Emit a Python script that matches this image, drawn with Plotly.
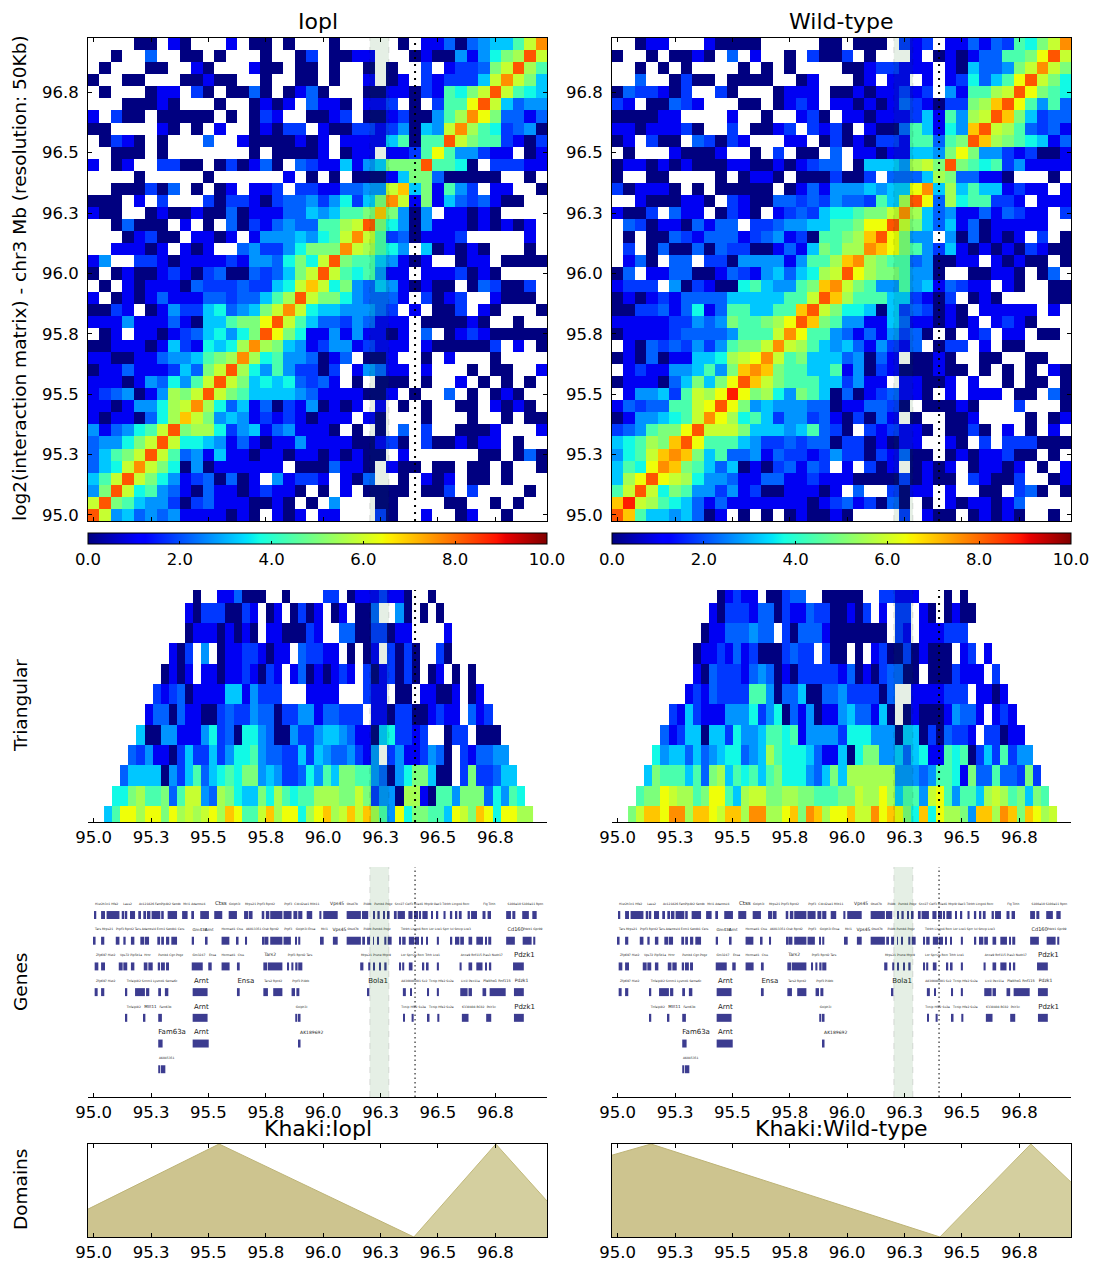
import plotly.graph_objects as go

# ---------- value codes: one character per matrix cell, '.' is an empty (white) cell ----------
CODE = {'0':0,'1':1,'2':1.8,'3':2.2,'4':2.7,'5':3.2,'6':3.7,'7':4.4,'8':5.0,'9':5.5,
        'a':5.9,'b':6.4,'c':7.0,'d':7.6,'e':8.2,'f':8.8}

iopl_left = ["....00.10...1.00.0..","..0..3..00.0...0..02",".0...00..10...100.00","0..00...00100..0..00",
".0...011.20.0030.013","...00010...0..0101.3","1.200.00000.0.021..0","00....10.0.1..01022.",
".0210.0...3..1000010","..000.0.......0.0000","1.01..2200.020130.32","....0.....0......1.0",
"..000203.0.01.112.22","000.1.2...2022102334","100..010010030111335","..03000.1.0.30213433",
"...01200.1101.144454","..11101.101..3422468","14..2210111121443686","0.01001210230032358a",
".0.101110322232256ac","1.0101311133233579ea","0021.01422563458ada6","111411131055788bea75",
".01.11012356468eb861","00111015216569d98541","1100113445789d967443","01131112538ae9647422",
"1110143647aea8565632","123401498aea87555543","11014469ad9635130214","10110369ca8454121210",
"413467ae899624513411","34468aea665413101141","3578aea7341511011011","356ada86040111111.00",
"57aea8641230301.4122","48ea674310311012110.","ae8754420231110010.0","ea4534341111010.101."]
iopl_right = [".0.....0.113034557ad",".0011...0100414689ea",".0..0.0..2.12238ae97",".0..1.01.212225ada85",
"0...0011021768aea765","110.112.0.277bea5344","012.001200479db83313","10022124054ad9762340",
"1.111157077ea8772102","1.011.1127b744211.01","115145888e7760.22211",".0.0001588300000..0.",
"113344ac581742.11..0","246258da1815323100..","45778c8404.11010....","779ae86404111010101.",
"67ada72301112.....1.","88da9764.501010...0.","ae87754101..011.0000","ea767411.1112010....",
"a68435410100.032002.","88643331.2012..1000.","5544432.1.002.10...0","33243111.000010..0..",
"14141101.3.012100000","24412111.1000002.1.0","013.001..0.1...0....","02.14311.1...0.00..1",
"31.0.000.0..1.0.0.0.","1111001.0..3.0.010..","0101.1.0.0..00.1010.","111.10...0...0..0.00",
"10.0.0.3.2..0001...1","11100120.2001011.0..","010100.1......00.030","03110.100.00.00.0..0",
"1.103..0.101.00.0...","0.1.0000.002.2....0.",".4...00....00..0.0..","11...20..1..01..0..."]

wt_left = ["..011...10000.....00","0..0.0010.3.1..0.200","..0.0.0....0.0.0....","..3..0200.0000..01..",
"0322102..20...0111.0","21.00321...00.0121.1","000011....1..0..120.","11011120..2.0012.212",
"01.200.32021...11.02",".0...10001..0.2.00.3","01101010001100101233","0..00....0.0110.0002",
"201110.0.00000.01314","..1000110.2100332324","1002.311.0210.123256",".3201103133.22344557",
".0.00321333123412077",".2.03003032200131587",".130.33.220444414779","03.1133001321453569a",
"1222.4021006754478cd","01012133335555577aec","0022313613775577cea8","111112243487789bec87",
"01111233334777adb774",".103232424788ada9754","01030115569abda78555",".1211445748cdc877557",
"0111035858beca877755",".144527a9bfb89648750","1323377abeb845444330","0144567adb9675244231",
"234788beaaa855545732","56798ceb777542232330","467acdc8573341322124","576bdc8753501023132.",
"59beba96443113311211","7aea6874424120011101","cfa97653131111111012","ec75545301.0.0.01001"]
wt_right = [".000.212.113132768ad","2.0...1.010133778bea","00122111.1053348ada8",".01.11.1.126357bea86",
"01011212.41779aeb876","1010132102289ceb7473","110111251749aec85233","0.100375164cea973231",
"01022177378ec9876513",".110115548b844212001",".055549a8e8767241111","002.33359833110...0.",
"445455bd5957551211.1","332759eb39677221.111","6788ad953411313211.2","78bbea853513011111..",
"89ceb844.4030101.2.0","99dcb874251010102100","cd9877340011.10100.0","eb9887440..00110.03.",
"a874474513211.10..00","9777552102.010....00","66505232010.11111.1.","441153110101.1210...",
"31314230.0.12.11.00.","5314213.022.1.00....","34031.0010..00..00..","14021000100.0.0.0.10",
"2411.11001.1..0.00.0","30123110.1.111.00.30","113320.00010...2...0","02031.0..001....0.01",
"0.212110.0020.1.0.1.","2201011..10.2.222000","22021300.01011200.0.","1.201.0101.01101.0.1",
"1000020100.21002..01",".3..2011.1..00.230.0","312030.0.1011013....","0....2.100.01010..0."]

# triangular rows, bottom row first; every row is indented one more column
tri_iopl = ["57bb9bb8b9a9ab9cb77ac9bb69bc9acac974b688775ba8cb6bb99",
"668977837aa4398655869767799988a82440991077488836476",
"35555042573567688454223647588774304688500.2822355",
"3241102522524667433225254334214.24112430.213344",
"500441114623066430042245543110562212..022.000",
"133031100232243302244133222.11022001211.312",
"2123011115514222...1111...211.00.11001.01",
"0101.1101121021.13010121.2012020.01.0.0",
"102.4.011221011.32211.0.01.2020..20..",
".011101010.1100021..330022011....1.",
"102220021.01.0201.01.003..40.0.0.",
"0..113000..0....22.01112110..0."]
tri_wt = ["8accbdd9ccbacc9dd99bc8dc9bbcaadbcb86c6b9984cc9dc8cb9a",
"788ba9978bb759aa88998877788a99b95774ab747759a978587",
"5877757389576757866643585999999444347761833733282",
"64553534566345976665311506884453561176702527244",
"312550552644577671444426664440550203221.22011",
"2152111444624603140114533150.0100014331.121",
".12132222774033500334222203..1111222.1101",
".1032221343010222221301023300.0002111.2",
"011213120002322.200.0.1200201000.12.1",
"011333433.2033310000000.21.111222..",
"10222133021132200102.1.22.10.0100",
"01211.00233..00000..22111...0.0"]

# genes: (start Mb, end Mb) per track, top track first
gene_track1 = [(95.001,95.011),(95.032,95.049),(95.056,95.112),(95.122,95.133),(95.136,95.146),(95.158,95.180),
(95.194,95.206),(95.216,95.228),(95.232,95.247),(95.252,95.290),(95.294,95.305),(95.322,95.363),(95.385,95.409),
(95.425,95.437),(95.464,95.502),(95.525,95.560),(95.588,95.624),(95.655,95.673),(95.676,95.692),(95.732,95.743),
(95.750,95.765),(95.769,95.822),(95.827,95.862),(95.870,95.887),(95.891,95.909),(95.928,95.952),(95.983,95.992),
(96.000,96.063),(96.102,96.164),(96.169,96.196),(96.218,96.225),(96.236,96.246),(96.262,96.269),(96.282,96.289),
(96.308,96.320),(96.324,96.356),(96.371,96.389),(96.397,96.402),(96.407,96.411),(96.417,96.426),(96.432,96.455),
(96.472,96.478),(96.495,96.501),(96.524,96.533),(96.552,96.562),(96.574,96.584),(96.591,96.603),(96.629,96.639),
(96.644,96.670),(96.694,96.707),(96.716,96.731),(96.797,96.818),(96.824,96.837),(96.867,96.896),(96.911,96.930)]
gene_track2 = [(95.001,95.008),(95.032,95.046),(95.096,95.112),(95.129,95.139),(95.162,95.177),(95.203,95.220),
(95.223,95.241),(95.277,95.289),(95.294,95.306),(95.315,95.329),(95.338,95.363),(95.427,95.437),(95.488,95.496),
(95.557,95.591),(95.624,95.631),(95.660,95.668),(95.734,95.740),(95.743,95.761),(95.769,95.822),(95.827,95.859),
(95.877,95.885),(95.891,95.900),(95.986,96.002),(96.042,96.063),(96.102,96.164),(96.170,96.182),(96.191,96.204),
(96.217,96.221),(96.236,96.243),(96.266,96.275),(96.281,96.298),(96.331,96.339),(96.344,96.359),(96.373,96.397),
(96.402,96.407),(96.411,96.417),(96.426,96.432),(96.449,96.455),(96.495,96.504),(96.555,96.562),(96.574,96.593),
(96.597,96.613),(96.633,96.649),(96.667,96.696),(96.705,96.713),(96.719,96.732),(96.797,96.835),(96.869,96.908),
(96.915,96.924)]
gene_track3 = [(95.004,95.020),(95.032,95.049),(95.109,95.126),(95.129,95.146),(95.162,95.177),(95.218,95.234),
(95.238,95.257),(95.279,95.289),(95.293,95.310),(95.315,95.328),(95.427,95.475),(95.499,95.514),(95.557,95.592),
(95.624,95.636),(95.739,95.756),(95.759,95.822),(95.842,95.851),(95.861,95.870),(95.878,95.888),(95.891,95.909),
(96.161,96.175),(96.196,96.205),(96.217,96.225),(96.243,96.251),(96.266,96.276),(96.333,96.339),(96.344,96.353),
(96.373,96.389),(96.433,96.440),(96.452,96.459),(96.495,96.504),(96.594,96.603),(96.633,96.649),(96.667,96.694),
(96.705,96.713),(96.722,96.732),(96.827,96.874)]
gene_track4 = [(95.004,95.017),(95.032,95.046),(95.138,95.146),(95.180,95.223),(95.228,95.242),(95.281,95.293),
(95.310,95.325),(95.431,95.496),(95.624,95.636),(95.739,95.759),(95.782,95.822),(95.862,95.877),(95.883,95.896),
(96.195,96.201),(96.347,96.360),(96.379,96.385),(96.455,96.461),(96.495,96.504),(96.597,96.629),(96.633,96.648),
(96.694,96.710),(96.725,96.795),(96.831,96.874)]
gene_track5 = [(95.138,95.146),(95.218,95.225),(95.281,95.297),(95.431,95.496),(95.878,95.887),(95.893,95.901),
(96.349,96.356),(96.385,96.394),(96.456,96.463),(96.497,96.506),(96.604,96.633),(96.710,96.732),(96.831,96.874)]
gene_track6 = [(95.281,95.300),(95.431,95.501),(95.894,95.901)]
gene_track7 = [(95.281,95.290),(95.293,95.312)]

# gene names: (track, start Mb, name, font px)
gene_names = [
(1,95.006,"Hist2h3c1 Hfe2",3),(1,95.129,"Lass2",3),(1,95.197,"Ac121826 Fam",3),(1,95.293,"Pip4k2 Setdb",3),
(1,95.390,"Mcl1 Adamtsl4",3),(1,95.528,"Ctss",5.5),(1,95.589,"Golph3l",3),(1,95.659,"Mrps21 Prpf3 Rprd2",3),
(1,95.830,"Prpf3",3),(1,95.874,"Cdc42se1 Mllt11",3),(1,96.030,"Vps45",4.5),(1,96.102,"Otud7b",3),(1,96.175,"Pi4kb",3),
(1,96.222,"Psmb4 Pogz",3),(1,96.312,"Snx27 Celf3 Riiad1 Mrpl9 Oaz3 Tdrkh Lingo4 Rorc",3),
(1,96.697,"Flg Tchh",3),(1,96.803,"S100a10 S100a11 Rptn",3),
(2,95.006,"Tars Mrps21",3),(2,95.097,"Prpf3 Rprd2 Tars Adamtsl4 Ecm1 Setdb1 Cers",3),(2,95.430,"Gm436",4),(2,95.485,"Arnt",4),
(2,95.557,"Hormad1",3),(2,95.623,"Ctss",3),(2,95.663,"AK013351",3),(2,95.734,"Ctsk Rprd2",3),(2,95.830,"Prpf3",3),
(2,95.880,"Golph3l Ensa",3),(2,95.990,"Mcl1",3),(2,96.040,"Vps45",4.5),(2,96.106,"Otud7b",3),
(2,96.175,"Pi4kb Psmb4 Pogz",3),(2,96.339,"Tdrkh Lingo4 Rorc Lor Lce1 Sprr Ivl Smcp Lce3",3),
(2,96.803,"Cd160",5),(2,96.871,"Pdzk1",3),(2,96.915,"Gpr89",3),
(3,95.010,"Zfp697 Hist2",3),(3,95.114,"Vps72 Pip5k1a",3),(3,95.220,"Hrnr",3),(3,95.281,"Psmb4 Cgn Pogz",3),
(3,95.430,"Gm3247",3),(3,95.502,"Ensa",3),(3,95.557,"Hormad1",3),(3,95.627,"Ctss",3),(3,95.743,"Tars2",4.5),
(3,95.845,"Prpf3 Rprd2 Tars",3),(3,96.164,"Mrps21 Prune Mrpl9",3),(3,96.339,"Lor Sprr2a Rorc Tchh Lce1",3),
(3,96.599,"Anxa9 Rnf115 Pias3 Nudt17",3),(3,96.831,"Pdzk1",7),
(4,95.010,"Zfp697 Hist2",3),(4,95.144,"Tnfaip8l2 Scnm1 Lysmd1 Sema6c",3),(4,95.437,"Arnt",7),(4,95.626,"Ensa",7),
(4,95.743,"Tars2 Rprd2",3),(4,95.865,"Prpf3 Pi4kb",3),(4,96.196,"Bola1",7),(4,96.340,"A830080D01 Sv2",3),
(4,96.461,"Txnip Hfe2 Sv2a",3),(4,96.600,"Lix1l Pex11a",3),(4,96.697,"Plekho1 Rnf115",3.5),(4,96.835,"Pdzk1",4.5),
(5,95.144,"Tnfaip8l2",3),(5,95.220,"Mllt11",4),(5,95.287,"Fam63b",3),(5,95.437,"Arnt",7),(5,95.880,"Golph3l",3),
(5,96.340,"Txnip Hfe2 Sv2a",3),(5,96.461,"Txnip Hfe2 Sv2a",3),(5,96.605,"6330408 BC02",3),(5,96.712,"Polr3c",3),(5,96.832,"Pdzk1",7),
(6,95.281,"Fam63a",7),(6,95.437,"Arnt",7),(6,95.899,"AK189692",4.5),
(7,95.284,"AK045351",3)]

domain_iopl_x = [94.975,95.546,96.395,96.752,96.975]
domain_iopl_y = [0.30,1.0,0.0,1.0,0.387]
domain_wt_x = [94.975,95.145,96.404,96.80,96.975]
domain_wt_y = [0.88,1.0,0.0,1.0,0.59]

tick_vals = [95.0,95.25,95.5,95.75,96.0,96.25,96.5,96.75]
tick_text = ["95.0","95.3","95.5","95.8","96.0","96.3","96.5","96.8"]
colorbar_ticks = [0,2,4,6,8,10]

# ---------- helpers ----------
W, H = 1099, 1262
FONT = "DejaVu Sans"
X0, X1 = 94.975, 96.975
BAND = (96.203, 96.286)
DOT = 96.40
TICKSIZE = 16.5
JET = [[0,"rgb(0,0,128)"],[.11,"rgb(0,0,255)"],[.125,"rgb(0,0,255)"],[.34,"rgb(0,219,255)"],[.35,"rgb(0,230,247)"],
[.375,"rgb(21,255,226)"],[.64,"rgb(239,255,8)"],[.65,"rgb(247,245,0)"],[.66,"rgb(255,236,0)"],[.89,"rgb(255,19,0)"],
[.91,"rgb(232,0,0)"],[1,"rgb(128,0,0)"]]

def decode(s):
    return [None if c == '.' else CODE[c] for c in s]

def dom_x(left): return [left/W, (left+459)/W]
def dom_y(top, bottom): return [1-bottom/H, 1-top/H]

fig = go.Figure()
layout = dict(width=W, height=H, margin=dict(l=0,r=0,t=0,b=0,autoexpand=False), paper_bgcolor="white", plot_bgcolor="white",
              showlegend=False, barmode="overlay", font=dict(family=FONT,color="black"))
shapes, annos = [], []
TICK = dict(tickfont=dict(family=FONT,size=TICKSIZE,color="black"), ticks="inside", ticklen=4, tickcolor="black", tickwidth=1,
            linecolor="black", linewidth=1, showgrid=False, zeroline=False)
ax = 0

def add_axes(left, top, bottom, xopts, yopts):
    global ax
    ax += 1
    n = "" if ax == 1 else str(ax)
    layout["xaxis"+n] = dict(domain=dom_x(left), range=[X0,X1], anchor="y"+n, tickmode="array", tickvals=tick_vals,
                             ticktext=tick_text, **TICK, **xopts)
    layout["yaxis"+n] = dict(domain=dom_y(top,bottom), anchor="x"+n, **yopts)
    return "x"+n, "y"+n

def overlays(xa, ya, dot_w, dash):
    shapes.append(dict(type="rect", xref=xa, yref=ya+" domain", x0=BAND[0], x1=BAND[1], y0=0, y1=1,
                       fillcolor="rgba(0,100,0,0.1)", line=dict(width=0), layer="above"))
    for b in BAND:
        shapes.append(dict(type="line", xref=xa, yref=ya+" domain", x0=b, x1=b, y0=0, y1=1, layer="above",
                           line=dict(color="rgba(0,0,0,0.12)", width=1, dash="6px,6px")))
    shapes.append(dict(type="line", xref=xa, yref=ya+" domain", x0=DOT, x1=DOT, y0=0, y1=1, layer="above",
                       line=dict(color="black", width=dot_w, dash=dash)))

def text(x, y, s, size, angle=0):
    annos.append(dict(xref="paper", yref="paper", x=x/W, y=1-y/H, text=s, showarrow=False, textangle=angle,
                      xanchor="center", yanchor="middle", font=dict(family=FONT,size=size,color="black")))

tracks = [gene_track1,gene_track2,gene_track3,gene_track4,gene_track5,gene_track6,gene_track7]
panels = [(88,"Iopl",iopl_left,iopl_right,tri_iopl,domain_iopl_x,domain_iopl_y),
          (612,"Wild-type",wt_left,wt_right,tri_wt,domain_wt_x,domain_wt_y)]

for left, name, mleft, mright, tri, dx, dy in panels:
    # matrix
    xa, ya = add_axes(left, 38, 521, dict(mirror="ticks", showticklabels=False),
                      dict(range=[X0,X1], tickmode="array", tickvals=tick_vals, ticktext=tick_text,
                           mirror="ticks", ticklabelstandoff=5, **TICK))
    z = [decode(a+b) for a,b in zip(mleft,mright)][::-1]
    axis_pos = [95+0.05*i for i in range(40)]
    fig.add_trace(go.Heatmap(z=z, x=axis_pos, y=axis_pos, xaxis=xa, yaxis=ya, colorscale=JET, zmin=0, zmax=10,
        hoverongaps=False, colorbar=dict(orientation="h", x=(left+229.5)/W, xanchor="center", y=1-533/H, yanchor="top",
            len=459, lenmode="pixels", thickness=11, thicknessmode="pixels", xpad=0, ypad=0, outlinewidth=1, outlinecolor="black",
            tickmode="array", tickvals=colorbar_ticks, ticktext=["%.1f"%v for v in colorbar_ticks], ticks="inside", ticklen=3, tickcolor="black",
            tickfont=dict(family=FONT,size=TICKSIZE,color="black"))))
    overlays(xa, ya, 2, "2px,5px")
    text(left+229.5, 22, name, 22)

    # triangular
    xa, ya = add_axes(left, 590, 822, dict(), dict(range=[-0.28,11.12], visible=False))
    tz = []
    for k,row in enumerate(tri):
        vals = [None]*k + decode(row)
        vals = (vals + [None]*53)[:53]
        tz.append(vals)
    tx = [95.0449+0.03528*(i+0.5) for i in range(53)]
    fig.add_trace(go.Heatmap(z=tz, x=tx, y=list(range(12)), xaxis=xa, yaxis=ya, colorscale=JET, zmin=0, zmax=10,
                             showscale=False, hoverongaps=False))
    overlays(xa, ya, 2, "2px,5px")

    # genes
    xa, ya = add_axes(left, 867, 1097, dict(), dict(range=[8.08,-0.868], visible=False))
    gs, gl, gt = [], [], []
    for t,tr in enumerate(tracks):
        for a,b in tr:
            gs.append(a); gl.append(b-a); gt.append(t+1)
    fig.add_trace(go.Bar(y=gt, x=gl, base=gs, orientation="h", width=0.31, xaxis=xa, yaxis=ya,
                         marker=dict(color="#3c3c90", line=dict(width=0))))
    fig.add_trace(go.Scatter(x=[g[1] for g in gene_names], y=[g[0]-0.43 for g in gene_names], text=[g[2] for g in gene_names],
                             mode="text", textposition="middle right", xaxis=xa, yaxis=ya,
                             textfont=dict(family=FONT,size=[g[3] for g in gene_names],color="#222222")))
    overlays(xa, ya, 1, "1.5px,3px")

    # domains
    xa, ya = add_axes(left, 1144, 1237, dict(mirror="ticks"), dict(range=[0,1], showline=True, mirror=True, linecolor="black",
                      linewidth=1, showticklabels=False, ticks="", showgrid=False, zeroline=False))
    fig.add_trace(go.Scatter(x=dx[:3], y=dy[:3], mode="lines", fill="tozeroy", fillcolor="#cdc48f", xaxis=xa, yaxis=ya,
                             line=dict(color="#bdb376",width=1)))
    fig.add_trace(go.Scatter(x=dx[2:], y=dy[2:], mode="lines", fill="tozeroy", fillcolor="#d4cf9f", xaxis=xa, yaxis=ya,
                             line=dict(color="#c2b97c",width=1)))
    text(left+229.5, 1128, "Khaki:"+name, 22)

text(20, 278, "log2(interaction matrix) - chr3 Mb (resolution: 50Kb)", 18.5, -90)
text(20, 706, "Triangular", 18.5, -90)
text(20, 982, "Genes", 18.5, -90)
text(20, 1190, "Domains", 18.5, -90)

layout["shapes"] = shapes
layout["annotations"] = annos
fig.update_layout(**layout)
fig.write_html("out.html", config=dict(displayModeBar=False),
               post_script="document.body.style.margin='0';document.documentElement.style.overflow='hidden';")
